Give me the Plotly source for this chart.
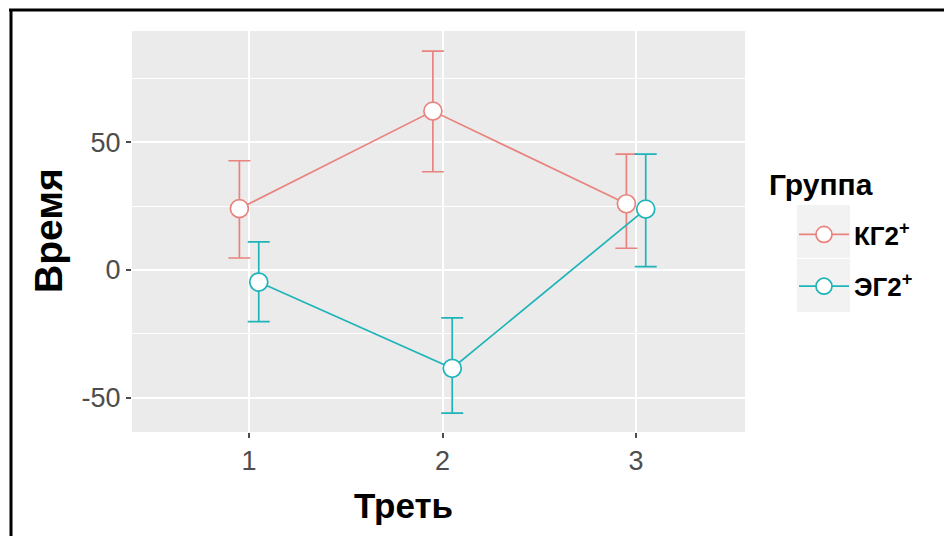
import plotly.graph_objects as go

thirds = [1, 2, 3]
groups = ["КГ2<sup>+</sup>", "ЭГ2<sup>+</sup>"]
kg_mean = [24.0, 62.1, 25.9]
kg_upper = [42.7, 85.5, 45.3]
kg_lower = [4.7, 38.4, 8.5]
eg_mean = [-4.7, -38.4, 23.8]
eg_upper = [11.0, -18.7, 45.3]
eg_lower = [-20.2, -55.9, 1.3]
dodge = 0.05

colors = ["#E8837D", "#1EB4B8"]
series = [(kg_mean, kg_upper, kg_lower, -dodge), (eg_mean, eg_upper, eg_lower, dodge)]

fig = go.Figure()
for i, (name, col, (m, u, l, d)) in enumerate(zip(groups, colors, series)):
    fig.add_trace(go.Scatter(
        x=[t + d for t in thirds], y=m, name=name, mode="lines+markers",
        legendgroup=f"g{i}",
        line=dict(color=col, width=1.7),
        marker=dict(symbol="circle", size=18, color="white", line=dict(color=col, width=1.7)),
        error_y=dict(type="data", symmetric=False,
                     array=[a - b for a, b in zip(u, m)],
                     arrayminus=[b - c for b, c in zip(m, l)],
                     color=col, thickness=1.7, width=11),
    ))

L, R, T, B = 132, 199, 31, 104
W, H = 944, 536
pw, ph = W - L - R, H - T - B
def px(x):
    return (x - L) / pw
def py(y):
    return (H - B - y) / ph

fig.update_layout(
    width=W, height=H,
    margin=dict(l=L, r=R, t=T, b=B),
    paper_bgcolor="white", plot_bgcolor="#EBEBEB",
    font=dict(family="Liberation Sans, Arial, sans-serif", color="#4D4D4D"),
    showlegend=True,
    legend=dict(
        font=dict(size=26, color="black", weight="bold"),
        x=px(794), y=py(211), xanchor="left", yanchor="top",
        bgcolor="rgba(0,0,0,0)", tracegroupgap=15, itemwidth=50,
    ),
    xaxis=dict(
        range=[0.395, 3.563], tickvals=thirds, ticktext=[str(t) for t in thirds],
        showgrid=True, gridcolor="white", gridwidth=2, zeroline=False,
        ticks="outside", ticklen=5, tickcolor="#4D4D4D", tickwidth=1.5,
        tickfont=dict(size=27, color="#4D4D4D"), showline=False,
    ),
    yaxis=dict(
        range=[-63.3, 93.4], tickvals=[-50, 0, 50], ticktext=["-50", "0", "50"],
        showgrid=True, gridcolor="white", gridwidth=2, zeroline=False,
        ticks="outside", ticklen=5, tickcolor="#4D4D4D", tickwidth=1.5,
        tickfont=dict(size=27, color="#4D4D4D"), showline=False,
        minor=dict(tickvals=[-25, 25, 75], showgrid=True, gridcolor="white", gridwidth=1, ticks=""),
    ),
    annotations=[
        dict(text="<b>Треть</b>", x=px(403), y=py(505), xref="paper", yref="paper",
             xanchor="center", yanchor="middle",
             showarrow=False, font=dict(size=35, color="black")),
        dict(text="<b>Время</b>", x=px(48), y=py(231), xref="paper", yref="paper",
             xanchor="center", yanchor="middle",
             showarrow=False, textangle=-90, font=dict(size=39, color="black")),
        dict(text="<b>Группа</b>", x=px(767), y=py(185), xref="paper", yref="paper",
             xanchor="left", yanchor="middle",
             showarrow=False, font=dict(size=30, color="black")),
    ],
    shapes=[
        dict(type="line", xref="paper", yref="paper", x0=px(9), x1=px(944), y0=py(10), y1=py(10),
             line=dict(color="black", width=3)),
        dict(type="line", xref="paper", yref="paper", x0=px(11), x1=px(11), y0=py(9), y1=py(536),
             line=dict(color="black", width=3)),
        dict(type="rect", xref="paper", yref="paper", x0=px(797), x1=px(850), y0=py(205), y1=py(258),
             fillcolor="#F2F2F2", line=dict(width=0), layer="below"),
        dict(type="rect", xref="paper", yref="paper", x0=px(797), x1=px(850), y0=py(259), y1=py(312),
             fillcolor="#F2F2F2", line=dict(width=0), layer="below"),
    ],
)

fig.write_html("out.html", config={"displayModeBar": False},
               post_script="document.body.style.margin='0';document.body.style.overflow='hidden';")
